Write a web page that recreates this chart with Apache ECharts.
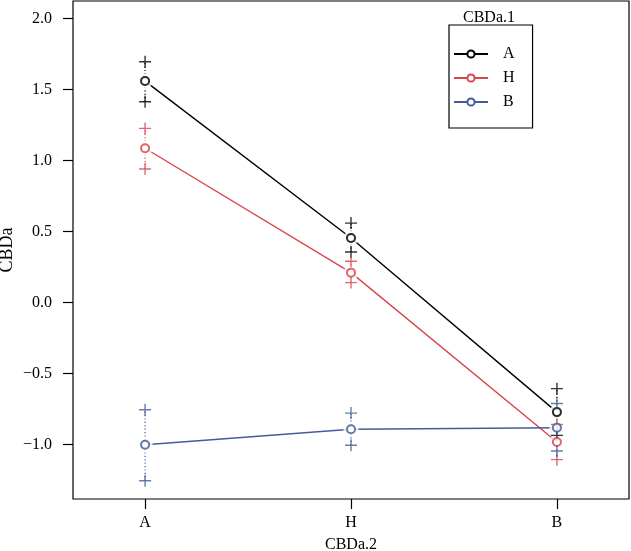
<!DOCTYPE html>
<html>
<head>
<meta charset="utf-8">
<script src="https://cdn.jsdelivr.net/npm/echarts@6/dist/echarts.min.js"></script>
<style>html,body{margin:0;padding:0;background:#fff}#c{width:631px;height:551px}</style>
</head>
<body>
<div id="c"></div>
<script>
// x categories (CBDa.2) and groups (CBDa.1)
var categories = ['A', 'H', 'B'];
var groups = ['A', 'H', 'B'];
var yTicks = [-1.0, -0.5, 0.0, 0.5, 1.0, 1.5, 2.0];
// group means and upper/lower bounds per category
var meanA = [1.558, 0.453, -0.773];
var upperA = [1.694, 0.558, -0.608];
var lowerA = [1.413, 0.354, -0.937];
var meanH = [1.085, 0.209, -0.984];
var upperH = [1.225, 0.289, -0.860];
var lowerH = [0.939, 0.139, -1.108];
var meanB = [-1.003, -0.894, -0.883];
var upperB = [-0.757, -0.780, -0.713];
var lowerB = [-1.257, -1.007, -1.047];

var colors = ['#000000', '#D7464E', '#445C98'];
var means = [meanA, meanH, meanB];
var uppers = [upperA, upperH, upperB];
var lowers = [lowerA, lowerH, lowerB];
var FONT = '"Liberation Serif", "Times New Roman", serif';

function xy(arr) { return arr.map(function (v, i) { return [i + 1, v]; }); }
function fmt(v) { return v.toFixed(1).replace('-', '\u2212'); }

var series = [];
groups.forEach(function (g, gi) {
  var c = colors[gi];
  series.push({
    name: g, type: 'line', data: xy(means[gi]), z: 2,
    symbol: 'emptyCircle', symbolSize: 8,
    lineStyle: { color: c, width: 1.4 },
    itemStyle: { color: c, borderColor: c, borderWidth: 1.5 },
    emphasis: { disabled: true }, animation: false
  });
  series.push({
    type: 'custom', z: 2, animation: false, silent: true,
    data: means[gi].map(function (m, i) { return [i + 1, lowers[gi][i], uppers[gi][i]]; }),
    renderItem: function (params, api) {
      var p1 = api.coord([api.value(0), api.value(1)]);
      var p2 = api.coord([api.value(0), api.value(2)]);
      return { type: 'line', shape: { x1: p1[0], y1: p1[1], x2: p2[0], y2: p2[1] },
        style: { stroke: c, lineWidth: 1.2, lineDash: [1.2, 2.2] } };
    }
  });
});
groups.forEach(function (g, gi) {
  series.push({
    type: 'scatter', data: xy(means[gi]), z: 3, symbol: 'circle', symbolSize: 15,
    itemStyle: { color: '#fff' }, silent: true, animation: false
  });
});
groups.forEach(function (g, gi) {
  var c = colors[gi];
  series.push({
    type: 'scatter', data: xy(means[gi]), z: 4, symbol: 'emptyCircle', symbolSize: 8,
    itemStyle: { color: c, borderColor: c, borderWidth: 1.5 }, silent: true, animation: false
  });
  series.push({
    type: 'scatter', data: xy(uppers[gi]).concat(xy(lowers[gi])), z: 4,
    symbol: 'path://M5,0L5,10M0,5L10,5', symbolSize: 12,
    itemStyle: { color: 'none', borderColor: c, borderWidth: 1.4 }, silent: true, animation: false
  });
});

var chart = echarts.init(document.getElementById('c'), null, { renderer: 'canvas' });
chart.setOption({
  animation: false,
  backgroundColor: '#fff',
  textStyle: { fontFamily: FONT },
  grid: { left: 73, top: 1, right: 2, bottom: 52, outerBoundsMode: 'none', containLabel: false,
    show: true, borderColor: '#000', borderWidth: 1.2, backgroundColor: 'transparent' },
  xAxis: {
    type: 'value', min: 0.65, max: 3.35,
    splitLine: { show: false },
    axisLine: { show: false, onZero: false },
    axisTick: { show: true, length: 10, customValues: [1, 2, 3], lineStyle: { color: '#000', width: 1.2 } },
    axisLabel: { customValues: [1, 2, 3], margin: 16, color: '#000', fontFamily: FONT, fontSize: 16,
      formatter: function (v) { return categories[Math.round(v) - 1]; } },
    name: 'CBDa.2', nameLocation: 'middle', nameGap: 38, nameMoveOverlap: false,
    nameTextStyle: { color: '#000', fontFamily: FONT, fontSize: 16 }
  },
  yAxis: {
    type: 'value', min: -1.385, max: 2.122,
    splitLine: { show: false },
    axisLine: { show: false, onZero: false },
    axisTick: { show: true, length: 10, customValues: yTicks, lineStyle: { color: '#000', width: 1.2 } },
    axisLabel: { customValues: yTicks, margin: 21, color: '#000', fontFamily: FONT, fontSize: 16, formatter: fmt },
    name: 'CBDa', nameLocation: 'middle', nameGap: 57, nameMoveOverlap: false,
    nameTextStyle: { color: '#000', fontFamily: FONT, fontSize: 18 }
  },
  legend: {
    data: groups, orient: 'vertical', left: 449, top: 25,
    padding: [21, 18, 18, 4], itemGap: 8, itemWidth: 34, itemHeight: 9,
    borderColor: '#000', borderWidth: 1.2,
    selectedMode: false,
    textStyle: { color: '#000', fontFamily: FONT, fontSize: 16, padding: [0, 0, 0, 10] }
  },
  graphic: [{
    type: 'text', left: 463, top: 10,
    style: { text: 'CBDa.1', fill: '#000', font: '16px ' + FONT }
  }],
  series: series
});
</script>
</body>
</html>
